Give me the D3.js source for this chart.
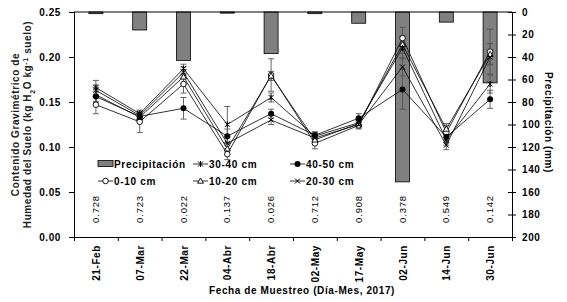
<!DOCTYPE html>
<html>
<head>
<meta charset="utf-8">
<script src="https://cdn.jsdelivr.net/npm/d3@7"></script>
<style>
  body { margin: 0; background: #fff; }
  svg text { font-family: "Liberation Sans", Arial, sans-serif; font-weight: bold; }
</style>
</head>
<body>
<svg id="chart" width="567" height="302"></svg>
<script>
// ── Data ───────────────────────────────────────────────────────────────────
const DATES = ["21-Feb", "07-Mar", "22-Mar", "04-Abr", "18-Abr", "02-May", "17-May", "02-Jun", "14-Jun", "30-Jun"];
const PRECIP = [1.5, 16, 43, 1, 37, 1.5, 10, 151, 9, 63];
const PVALUES = ["0.728", "0.723", "0.022", "0.137", "0.026", "0.712", "0.908", "0.378", "0.549", "0.142"];

const D0_10  = [0.147, 0.128, 0.170, 0.092, 0.180, 0.104, 0.124, 0.221, 0.116, 0.206];
const D10_20 = [0.158, 0.133, 0.178, 0.098, 0.179, 0.108, 0.126, 0.214, 0.120, 0.203];
const D20_30 = [0.163, 0.135, 0.183, 0.104, 0.130, 0.110, 0.125, 0.189, 0.102, 0.200];
const D30_40 = [0.166, 0.137, 0.187, 0.125, 0.155, 0.112, 0.127, 0.210, 0.108, 0.170];
const D40_50 = [0.156, 0.134, 0.143, 0.112, 0.137, 0.113, 0.132, 0.164, 0.111, 0.153];

const E0_10  = [0.010, 0.012, 0.010, 0.006, 0.018, 0.006, 0.004, 0.012, 0.008, 0.025];
const E10_20 = [0.008, 0.004, 0.008, 0.006, 0.005, 0.004, 0.004, 0.010, 0.006, 0.012];
const E20_30 = [0.006, 0.004, 0.006, 0.006, 0.005, 0.004, 0.004, 0.010, 0.005, 0.008];
const E30_40 = [0.008, 0.004, 0.005, 0.020, 0.005, 0.004, 0.004, 0.012, 0.006, 0.010];
const E40_50 = [0.006, 0.004, 0.012, 0.008, 0.005, 0.004, 0.005, 0.022, 0.006, 0.010];

const SERIES = [
    { label: "0-10 cm",  values: D0_10,  err: E0_10,  marker: "circleOpen" },
    { label: "10-20 cm", values: D10_20, err: E10_20, marker: "triangle" },
    { label: "20-30 cm", values: D20_30, err: E20_30, marker: "cross" },
    { label: "30-40 cm", values: D30_40, err: E30_40, marker: "star" },
    { label: "40-50 cm", values: D40_50, err: E40_50, marker: "circleFilled" },
];

// ── Layout ─────────────────────────────────────────────────────────────────
const L = 74, R = 512, T = 12, B = 237;
const svg = d3.select("#chart");

const x = d3.scaleBand().domain(DATES).range([L, R]).padding(0);
const xc = d => x(d) + x.bandwidth() / 2;
const y = d3.scaleLinear().domain([0, 0.25]).range([B, T]);
const y2 = d3.scaleLinear().domain([0, 200]).range([T, B]);

// ── Bars ───────────────────────────────────────────────────────────────────
const barW = 14;
svg.append("g").selectAll("rect")
    .data(DATES.map((d, i) => ({ d, v: PRECIP[i] })))
    .join("rect")
    .attr("x", p => xc(p.d) - barW / 2)
    .attr("y", y2(0))
    .attr("width", barW)
    .attr("height", p => y2(p.v) - y2(0))
    .attr("fill", "#808080")
    .attr("stroke", "#000")
    .attr("stroke-width", 0.8);

// ── Markers ────────────────────────────────────────────────────────────────
function drawMarker(g, type, cx, cy) {
    if (type === "circleOpen") {
        g.append("circle").attr("cx", cx).attr("cy", cy).attr("r", 2.8)
            .attr("fill", "#fff").attr("stroke", "#000").attr("stroke-width", 0.9);
    } else if (type === "circleFilled") {
        g.append("circle").attr("cx", cx).attr("cy", cy).attr("r", 3)
            .attr("fill", "#000");
    } else if (type === "triangle") {
        g.append("path").attr("d", `M${cx},${cy - 3}L${cx + 3},${cy + 2.2}L${cx - 3},${cy + 2.2}Z`)
            .attr("fill", "#fff").attr("stroke", "#000").attr("stroke-width", 0.9);
    } else if (type === "cross") {
        g.append("path").attr("d", `M${cx - 2.5},${cy - 2.5}L${cx + 2.5},${cy + 2.5}M${cx - 2.5},${cy + 2.5}L${cx + 2.5},${cy - 2.5}`)
            .attr("stroke", "#000").attr("stroke-width", 1);
    } else if (type === "star") {
        g.append("path").attr("d", `M${cx - 2.5},${cy - 2.5}L${cx + 2.5},${cy + 2.5}M${cx - 2.5},${cy + 2.5}L${cx + 2.5},${cy - 2.5}M${cx},${cy - 3}L${cx},${cy + 3}`)
            .attr("stroke", "#000").attr("stroke-width", 1);
    }
}

// ── Error bars ─────────────────────────────────────────────────────────────
const errG = svg.append("g").attr("stroke", "#555").attr("stroke-width", 0.9);
SERIES.forEach(s => {
    s.values.forEach((v, i) => {
        const cx = xc(DATES[i]);
        const y1 = y(v + s.err[i]), yb = y(v - s.err[i]);
        errG.append("line").attr("x1", cx).attr("x2", cx).attr("y1", y1).attr("y2", yb);
        errG.append("line").attr("x1", cx - 3).attr("x2", cx + 3).attr("y1", y1).attr("y2", y1);
        errG.append("line").attr("x1", cx - 3).attr("x2", cx + 3).attr("y1", yb).attr("y2", yb);
    });
});

// ── Lines ──────────────────────────────────────────────────────────────────
const line = d3.line().x((v, i) => xc(DATES[i])).y(v => y(v));
SERIES.forEach(s => {
    svg.append("path").datum(s.values)
        .attr("d", line).attr("fill", "none")
        .attr("stroke", "#000").attr("stroke-width", 0.8);
});
SERIES.forEach(s => {
    const g = svg.append("g");
    s.values.forEach((v, i) => drawMarker(g, s.marker, xc(DATES[i]), y(v)));
});

// ── Axes ───────────────────────────────────────────────────────────────────
function styleAxis(g) {
    g.select(".domain").attr("stroke", "#000").attr("stroke-width", 1);
    g.selectAll(".tick line").attr("stroke", "#000");
    g.selectAll(".tick text").attr("fill", "#000").style("font-size", "10px").style("letter-spacing", "0.6px");
}

svg.append("g").attr("transform", `translate(${L},0)`)
    .call(d3.axisLeft(y).tickValues([0, 0.05, 0.1, 0.15, 0.2, 0.25]).tickFormat(d3.format(".2f")).tickSize(5).tickPadding(8))
    .call(styleAxis);

const rAx = svg.append("g").attr("transform", `translate(${R},0)`)
    .call(d3.axisRight(y2).tickValues(d3.range(0, 201, 20)).tickSize(4).tickPadding(6))
    .call(styleAxis);
rAx.selectAll(".tick line").attr("x1", -4);
rAx.selectAll(".tick text").attr("text-anchor", "start");

// bottom axis: ticks on the band edges, labels at band centres
const xEdge = d3.scaleLinear().domain([0, DATES.length]).range([L, R]);
svg.append("g").attr("transform", `translate(0,${B})`)
    .call(d3.axisBottom(xEdge).tickValues(d3.range(0, DATES.length + 1)).tickSize(4).tickFormat(""))
    .call(styleAxis);

svg.append("g").selectAll("text")
    .data(DATES).join("text")
    .attr("transform", d => `translate(${xc(d) + 4},${B + 8}) rotate(-90)`)
    .attr("text-anchor", "end")
    .style("font-size", "10px").style("letter-spacing", "0.6px")
    .text(d => d);

// top border
svg.append("line").attr("x1", L).attr("x2", R).attr("y1", T).attr("y2", T)
    .attr("stroke", "#000").attr("stroke-width", 1);

// ── P values ───────────────────────────────────────────────────────────────
svg.append("g").selectAll("text")
    .data(PVALUES).join("text")
    .attr("transform", (p, i) => `translate(${xc(DATES[i]) + 3},${209}) rotate(-90)`)
    .attr("text-anchor", "middle")
    .style("font-size", "9.5px").style("font-weight", "normal").style("letter-spacing", "0.8px")
    .attr("fill", "#000")
    .text(p => p);

// ── Titles ─────────────────────────────────────────────────────────────────
const yt = svg.append("text")
    .attr("transform", `translate(0,${(T + B) / 2}) rotate(-90)`)
    .attr("text-anchor", "middle")
    .style("font-size", "10px").style("letter-spacing", "0.6px").attr("fill", "#222");
yt.append("tspan").attr("x", 0).attr("y", 19).text("Contenido Gravimétrico de");
yt.append("tspan").attr("x", 0).attr("y", 31).text("Humedad del Suelo (kg H")
    .append("tspan").attr("baseline-shift", "sub").style("font-size", "7px").text("2");
yt.append("tspan").text("O kg");
yt.append("tspan").attr("baseline-shift", "super").style("font-size", "7px").text("-1");
yt.append("tspan").text(" suelo)");

svg.append("text")
    .attr("transform", `translate(545,${(T + B) / 2 - 2}) rotate(90)`)
    .attr("text-anchor", "middle")
    .style("font-size", "10px").style("letter-spacing", "0.6px")
    .text("Precipitación (mm)");

svg.append("text")
    .attr("x", 302).attr("y", 294)
    .attr("text-anchor", "middle")
    .style("font-size", "10px").style("letter-spacing", "0.6px")
    .text("Fecha de Muestreo (Día-Mes, 2017)");

// ── Legend ─────────────────────────────────────────────────────────────────
const LEGEND = [
    { label: "Precipitación", bar: true, col: 0, row: 0 },
    { label: "30-40 cm", marker: "star", col: 1, row: 0 },
    { label: "40-50 cm", marker: "circleFilled", col: 2, row: 0 },
    { label: "0-10 cm", marker: "circleOpen", col: 0, row: 1 },
    { label: "10-20 cm", marker: "triangle", col: 1, row: 1 },
    { label: "20-30 cm", marker: "cross", col: 2, row: 1 },
];
const legX = [98, 193, 290], legY = [164, 181];
const leg = svg.append("g");
LEGEND.forEach(it => {
    const lx = legX[it.col], ly = legY[it.row];
    const g = leg.append("g");
    if (it.bar) {
        g.append("rect").attr("x", lx).attr("y", ly - 3.5).attr("width", 15).attr("height", 6)
            .attr("fill", "#808080").attr("stroke", "#000").attr("stroke-width", 0.8);
    } else {
        g.append("line").attr("x1", lx).attr("x2", lx + 15).attr("y1", ly).attr("y2", ly)
            .attr("stroke", "#000").attr("stroke-width", 0.8);
        drawMarker(g, it.marker, lx + 7.5, ly);
    }
    g.append("text").attr("x", lx + 16).attr("y", ly + 3.5)
        .style("font-size", "10px").style("letter-spacing", "0.7px")
        .text(it.label);
});
</script>
</body>
</html>
